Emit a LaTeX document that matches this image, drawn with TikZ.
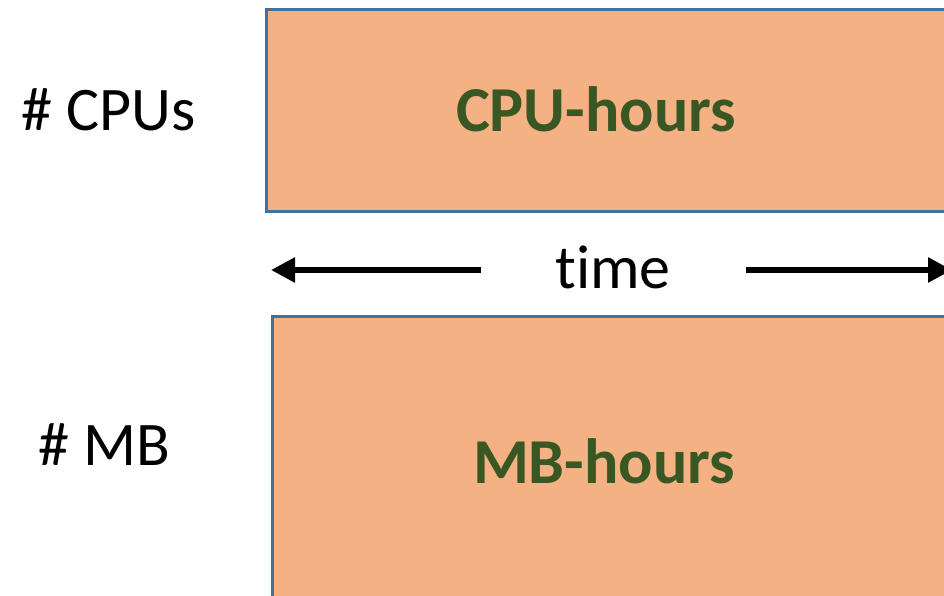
\documentclass[tikz,border=0pt]{standalone}
\usepackage{fontspec}
\setmainfont{Carlito}[Ligatures={NoCommon}]
\usetikzlibrary{arrows.meta}
\definecolor{boxfill}{HTML}{F4B183}
\definecolor{boxline}{HTML}{41719C}
\definecolor{labgreen}{HTML}{385723}
\begin{document}
\begin{tikzpicture}[x=1pt,y=-1pt,
  box/.style={draw=boxline, line width=2.5pt, fill=boxfill, anchor=north west, inner sep=0pt},
  sidelab/.style={anchor=base, inner sep=0pt, font=\fontsize{62}{74}\selectfont},
  boxlab/.style={anchor=base, inner sep=0pt, text=labgreen, font=\fontsize{64}{76}\selectfont\bfseries},
  timearrow/.style={line width=5.5pt, -{Triangle[length=24pt,width=24pt]}}]
\useasboundingbox (0,0) rectangle (944,595);
\clip (0,0) rectangle (944,595);
\node[box, minimum width=720pt, minimum height=202pt] (cpubox) at (265,8) {};
\node[box, minimum width=720pt, minimum height=320pt] (mbbox) at (271,315) {};
\node[sidelab] (cpus) at (109,130) {\# CPUs};
\node[sidelab] (mb) at (104,465) {\# MB};
\node[boxlab] (cpuh) at (596,131) {CPU-hours};
\node[boxlab] (mbh) at (604,483) {MB-hours};
\node[sidelab] (time) at (613,288) {time};
\coordinate (lstart) at (481,270);
\coordinate (lend) at (271,270);
\coordinate (rstart) at (746,270);
\coordinate (rend) at (952,270);
\draw[timearrow] (lstart) -- (lend);
\draw[timearrow] (rstart) -- (rend);
\end{tikzpicture}
\end{document}
